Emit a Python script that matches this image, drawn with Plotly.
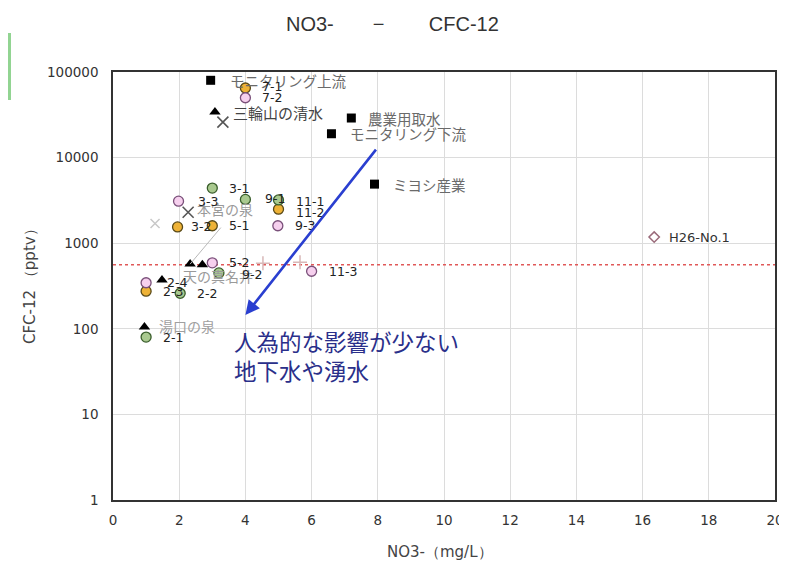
import math
import plotly.graph_objects as go

# ---------------- data ----------------
# black squares (river / monitoring)
sq_names = ["モニタリング上流", "農業用取水", "モニタリング下流", "ミヨシ産業"]
sq_x = [2.95, 7.2, 6.6, 7.9]
sq_y = [80000, 29000, 19000, 4900]

# black triangles (springs)
tri_names = ["三輪山の清水", "天の真名井", "", "", "湯口の泉"]
tri_x = [3.08, 2.33, 2.7, 1.48, 0.95]
tri_y = [34000, 570, 560, 372, 105]

# x markers
x_names = ["", "本宮の泉"]
x_x = [3.32, 2.27]
x_y = [26000, 2300]
xl_x = [1.27]          # faint x marker
xl_y = [1700]

# circles by colour
or_names = ["7-1", "11-2", "3-2", "5-1", "2-3"]
or_x = [4.0, 5.0, 1.95, 3.0, 1.0]
or_y = [65000, 2500, 1550, 1600, 275]

pk_names = ["7-2", "3-3", "9-3", "5-2", "11-3", "2-4"]
pk_x = [4.0, 1.98, 4.98, 3.0, 6.0, 1.0]
pk_y = [50000, 3100, 1600, 590, 470, 345]

gr_names = ["3-1", "9-1", "11-1", "2-2", "9-2", "2-1"]
gr_x = [3.0, 4.0, 5.0, 2.03, 3.2, 1.0]
gr_y = [4400, 3250, 3200, 260, 450, 80]

# plus markers
pl_x = [4.53, 5.65]
pl_y = [585, 600]

# H26 diamond
dm_names = ["H26-No.1"]
dm_x = [16.35]
dm_y = [1180]

# reference level
ref_level = 560

# arrow (from -> to)
arrow_from = (7.98, 12900)
arrow_to = (4.0, 145)
note_text = "人為的な影響が少ない<br>地下水や湧水"
note_pos = (3.6, 118)

x_ticks = [0, 2, 4, 6, 8, 10, 12, 14, 16, 18, 20]
y_tickvals = [1, 10, 100, 1000, 10000, 100000]
y_ticktext = ["1", "10", "100", "1000", "10000", "100000"]

JP = "Noto Sans CJK JP"
NUM = "DejaVu Sans, Liberation Sans, Arial"
TTL = "Liberation Sans, Arial"

W, H = 787, 558
L, R, T, B = 105, 20, 64, 66
PW = W - L - R
PH = H - T - B

fig = go.Figure()

# reference dashed line
fig.add_trace(go.Scatter(x=[0, 20], y=[ref_level, ref_level], mode="lines",
                         line=dict(color="#e05858", width=1.6, dash="dot"),
                         hoverinfo="skip", showlegend=False))

fig.add_trace(go.Scatter(x=pl_x, y=pl_y, mode="markers",
                         marker=dict(symbol="cross-thin", size=10,
                                     line=dict(color="#d8b8b8", width=1.5)),
                         showlegend=False))
fig.add_trace(go.Scatter(x=xl_x, y=xl_y, mode="markers",
                         marker=dict(symbol="x-thin", size=9,
                                     line=dict(color="#c8c8c8", width=1.5)),
                         showlegend=False))
fig.add_trace(go.Scatter(x=x_x, y=x_y, mode="markers",
                         marker=dict(symbol="x-thin", size=11,
                                     line=dict(color="#555555", width=1.6)),
                         showlegend=False))
fig.add_trace(go.Scatter(x=sq_x, y=sq_y, mode="markers",
                         marker=dict(symbol="square", size=9, color="black"),
                         showlegend=False))
fig.add_trace(go.Scatter(x=tri_x, y=tri_y, mode="markers",
                         marker=dict(symbol="triangle-up", size=10, color="black"),
                         showlegend=False))
fig.add_trace(go.Scatter(x=or_x, y=or_y, mode="markers",
                         marker=dict(symbol="circle", size=10, color="#eeb236",
                                     line=dict(color="#5a4a18", width=1.3)),
                         showlegend=False))
fig.add_trace(go.Scatter(x=pk_x, y=pk_y, mode="markers",
                         marker=dict(symbol="circle", size=10, color="#f6d0ee",
                                     line=dict(color="#7a507a", width=1.3)),
                         showlegend=False))
fig.add_trace(go.Scatter(x=gr_x, y=gr_y, mode="markers",
                         marker=dict(symbol="circle", size=10, color="#a9c98f",
                                     line=dict(color="#3a5e2c", width=1.3)),
                         showlegend=False))
fig.add_trace(go.Scatter(x=dm_x, y=dm_y, mode="markers",
                         marker=dict(symbol="diamond-open", size=8, color="#9a6a7a",
                                     line=dict(color="#9a6a7a", width=1.5)),
                         showlegend=False))

annotations = []


def add_labels(names, xs, ys, color, font, size, xshift=17, yshifts=None, xshifts=None):
    for i, (n, xv, yv) in enumerate(zip(names, xs, ys)):
        if not n:
            continue
        annotations.append(dict(
            x=xv, y=math.log10(yv), xref="x", yref="y", text=n, showarrow=False,
            xanchor="left", yanchor="middle",
            xshift=(xshifts[i] if xshifts else xshift),
            yshift=(yshifts[i] if yshifts else 0),
            font=dict(family=font, size=size, color=color)))


add_labels(sq_names, sq_x, sq_y, "#6a6a6a", JP, 14.5, xshifts=[17, 15, 17, 17])
add_labels(tri_names[:1], tri_x[:1], tri_y[:1], "#444444", JP, 15, xshift=16)
add_labels(tri_names[1:2], tri_x[1:2], tri_y[1:2], "#9a9a9a", JP, 14, xshift=-9, yshifts=[-12])
add_labels(tri_names[4:], tri_x[4:], tri_y[4:], "#a0a0a0", JP, 14, xshift=13, yshifts=[1])
add_labels(x_names, x_x, x_y, "#9a9a9a", JP, 14, xshift=7, yshifts=[0, 3])
add_labels(or_names, or_x, or_y, "#222222", NUM, 12.5, xshifts=[15, 15, 11, 15, 15],
           yshifts=[2, -3, 0, 0, 0])
add_labels(pk_names, pk_x, pk_y, "#222222", NUM, 12.5, xshifts=[15, 17, 15, 15, 15, 19])
add_labels(gr_names, gr_x, gr_y, "#222222", NUM, 12.5, xshifts=[15, 18, 15, 15, 21, 15],
           yshifts=[0, 1, -2, 0, -2, 0])
add_labels(dm_names, dm_x, dm_y, "#333333", NUM, 13, xshift=13)

# thin leader line
annotations.append(dict(x=tri_x[1], y=math.log10(tri_y[1]), xref="x", yref="y",
                        ax=32, ay=-38, showarrow=True, arrowhead=0, arrowwidth=1,
                        arrowcolor="#b8b8b8", text=""))

# blue arrow
annotations.append(dict(x=arrow_to[0], y=math.log10(arrow_to[1]), xref="x", yref="y",
                        ax=arrow_from[0], ay=math.log10(arrow_from[1]),
                        axref="x", ayref="y", showarrow=True, arrowhead=2,
                        arrowsize=1.1, arrowwidth=2.6, arrowcolor="#2a3fd0", text=""))

# note text
annotations.append(dict(x=note_pos[0], y=math.log10(note_pos[1]), xref="x", yref="y",
                        text=note_text, showarrow=False, xanchor="left", yanchor="top",
                        align="left",
                        font=dict(family=JP, size=22.5, color="#2a2f8a")))

# title
annotations.append(dict(x=(384 - L) / PW, y=(H - B - 16) / PH, xref="paper", yref="paper",
                        text="NO3-" + "\u00a0" * 7 + "−" + "\u00a0" * 8 + "CFC-12",
                        showarrow=False, xanchor="center", yanchor="middle",
                        font=dict(family=TTL, size=20, color="#333333")))

# axis titles
annotations.append(dict(x=(432 - L) / PW, y=-(544 - (H - B)) / PH, xref="paper", yref="paper",
                        text="NO3-（mg/L）", showarrow=False, xanchor="center",
                        yanchor="middle", font=dict(family=NUM, size=15, color="#444")))
annotations.append(dict(x=(22 - L) / PW, y=(H - B - 275) / PH, xref="paper", yref="paper",
                        text="CFC-12 （pptv）", showarrow=False, textangle=-90,
                        xanchor="center", yanchor="middle",
                        font=dict(family=NUM, size=15, color="#444")))

fig.update_layout(
    width=W, height=H,
    margin=dict(l=L, r=R, t=T, b=B, autoexpand=False),
    paper_bgcolor="white", plot_bgcolor="white",
    annotations=annotations,
    shapes=[dict(type="rect", xref="paper", yref="paper",
                 x0=-L / PW, x1=(3 - L) / PW,
                 y0=(H - B - 92) / PH, y1=(H - B - 25) / PH,
                 fillcolor="#92d492", line=dict(width=0))],
    showlegend=False,
)

fig.update_xaxes(range=[0, 20], tickvals=x_ticks, showgrid=True, gridcolor="#dcdcdc",
                 gridwidth=1, zeroline=False, showline=True, linecolor="#333333",
                 linewidth=1.6, mirror=True, ticks="", ticklen=0, automargin=False,
                 ticklabeloverflow="allow", ticklabelstandoff=7,
                 tickfont=dict(family=NUM, size=13.5, color="#333"))
fig.update_yaxes(type="log", range=[0, 5], tickvals=y_tickvals, ticktext=y_ticktext,
                 showgrid=True, gridcolor="#dcdcdc", gridwidth=1, zeroline=False,
                 showline=True, linecolor="#333333", linewidth=1.6, mirror=True,
                 ticks="", automargin=False, ticklabelstandoff=10,
                 tickfont=dict(family=NUM, size=13.5, color="#333"))

fig.write_html("out.html")
